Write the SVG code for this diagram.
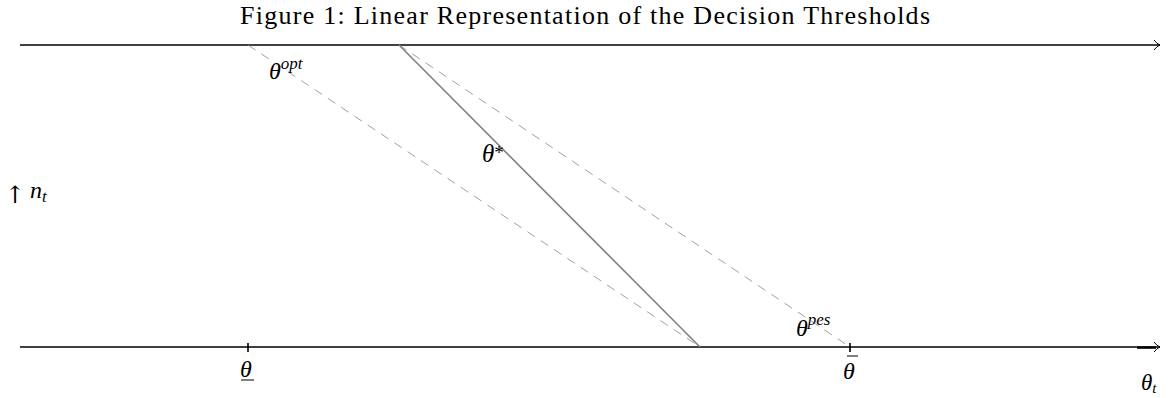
<svg xmlns="http://www.w3.org/2000/svg" width="1171" height="398" viewBox="0 0 1171 398">
<style>
.t{font-family:"Liberation Serif","DejaVu Serif",serif;fill:#000}
.m{font-family:"Liberation Serif","DejaVu Serif",serif;font-style:italic;fill:#000}
.axis{stroke:#000;stroke-width:1.6;fill:none}
.dash{stroke:#888;stroke-width:0.8;stroke-dasharray:9,7;fill:none}
.solid{stroke:#808080;stroke-width:1.6;fill:none}
.tick{stroke:#000;stroke-width:1.6}
</style>
<defs>
<marker id="arr" markerWidth="10" markerHeight="12" refX="8" refY="6" orient="auto" markerUnits="userSpaceOnUse">
<path d="M2,1 Q5,5 8,6 Q5,7 2,11" fill="none" stroke="#000" stroke-width="1"/>
</marker>
</defs>
<rect width="1171" height="398" fill="#fff"/>
<text class="t" x="240" y="24" font-size="26" textLength="690" lengthAdjust="spacing">Figure 1: Linear Representation of the Decision Thresholds</text>
<g id="connectors">
<line class="axis" x1="20" y1="45" x2="1160" y2="45" marker-end="url(#arr)"/>
<line class="axis" x1="20" y1="347" x2="1160" y2="347" marker-end="url(#arr)"/>
<line x1="1137" y1="347.6" x2="1156" y2="347.6" stroke="#000" stroke-width="2.4"/>
<line class="dash" x1="248" y1="45" x2="700" y2="347"/>
<line class="solid" x1="399" y1="45" x2="700" y2="347"/>
<line class="dash" x1="399" y1="45" x2="850" y2="347"/>
<line class="tick" x1="248" y1="343" x2="248" y2="352"/>
<line class="tick" x1="850" y1="343" x2="850" y2="352"/>
</g>
<g id="label-opt"><text class="m" x="269" y="79" font-size="24">θ<tspan font-size="17" dy="-10">opt</tspan></text></g>
<g id="label-star"><text class="m" x="482" y="162" font-size="25">θ<tspan font-size="19" dy="-3" font-style="normal">*</tspan></text></g>
<g id="label-pes"><text class="m" x="796" y="336" font-size="24">θ<tspan font-size="17" dy="-11">pes</tspan></text></g>
<g id="label-lower"><text class="m" x="240" y="377" font-size="24">θ</text><line x1="241" y1="380" x2="254" y2="380" stroke="#000" stroke-width="1"/></g>
<g id="label-upper"><line x1="847" y1="356" x2="858" y2="356" stroke="#000" stroke-width="1"/><text class="m" x="843" y="379" font-size="24">θ</text></g>
<g id="label-theta-t"><text class="m" x="1141" y="390" font-size="23">θ<tspan font-size="15" dy="3">t</tspan></text></g>
<g id="label-nt"><text x="5" y="203" font-size="24" font-family="'DejaVu Serif','DejaVu Sans',serif" fill="#000">↑</text><text class="m" x="30" y="198" font-size="24">n<tspan font-size="17" dy="4">t</tspan></text></g>
</svg>
